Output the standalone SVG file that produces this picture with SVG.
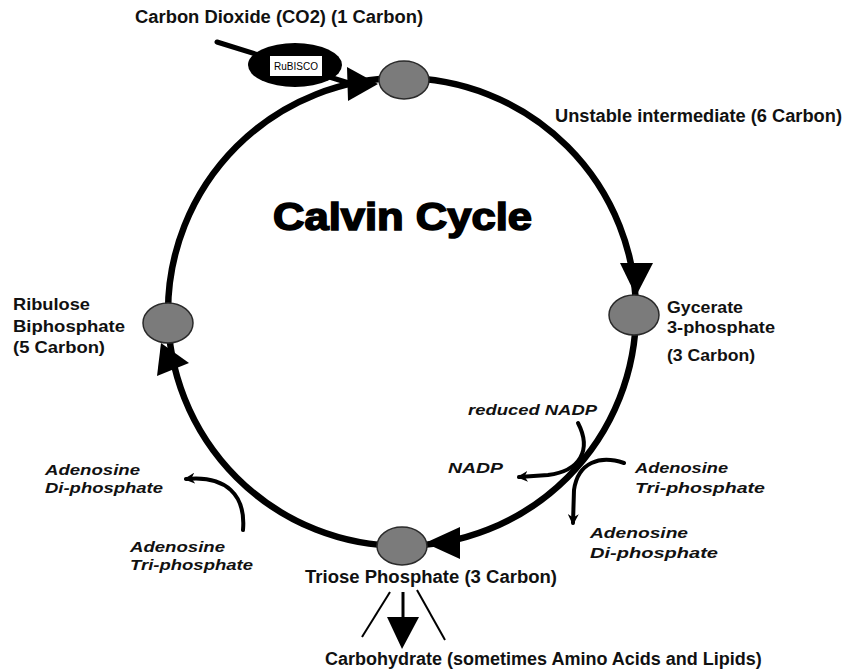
<svg xmlns="http://www.w3.org/2000/svg" width="846" height="671" viewBox="0 0 846 671">
<style>
.lbl{font-family:"Liberation Sans",Arial,sans-serif;font-weight:bold;font-size:18px;fill:#111}
.sm{font-size:16.5px}
.it{font-family:"Liberation Sans",Arial,sans-serif;font-weight:bold;font-style:italic;font-size:15.5px;fill:#111}
.node{fill:#7b7b7b;stroke:#2a2a2a;stroke-width:1.5}
.ring{fill:none;stroke:#000;stroke-width:6.5}
.side{fill:none;stroke:#000;stroke-width:4;stroke-linecap:round}
.thin{fill:none;stroke:#000;stroke-width:2}
.head{fill:#000}
</style>
<defs>
<marker id="sm" viewBox="0 0 10 10" refX="8" refY="5" markerWidth="11" markerHeight="11" markerUnits="userSpaceOnUse" orient="auto">
<path d="M0,0 L10,5 L0,10 L3,5 Z" fill="#000"/>
</marker>
</defs>
<rect width="846" height="671" fill="#fff"/>

<g id="connectors">
<circle class="ring" cx="402" cy="312" r="234"/>
<line x1="217" y1="42" x2="352" y2="84" stroke="#000" stroke-width="5" stroke-linecap="round"/>
<polygon class="head" points="347,67 378,84 348,101"/>
<polygon class="head" points="620,263 653,263 636,296"/>
<polygon class="head" points="425,543 460,527 460,559"/>
<polygon class="head" points="161,343 157,376 189,363"/>
<path class="side" d="M578,423 C592,450 580,471 548,475 L519,477" marker-end="url(#sm)"/>
<path class="side" d="M624,463 C600,455 578,462 574,490 L573,523" marker-end="url(#sm)"/>
<path class="side" d="M243,530 C246,495 226,475 186,479" marker-end="url(#sm)"/>
<line class="thin" x1="390" y1="592" x2="362" y2="637"/>
<line class="thin" x1="417" y1="590" x2="445" y2="640"/>
<line x1="403" y1="592" x2="403" y2="620" stroke="#000" stroke-width="3"/>
<polygon class="head" points="387,617 419,617 402,649"/>
</g>

<g id="rubisco">
<text class="lbl" x="135" y="23" textLength="288" lengthAdjust="spacingAndGlyphs">Carbon Dioxide (CO2) (1 Carbon)</text>
<ellipse cx="295" cy="65" rx="47" ry="22" fill="#000"/>
<rect x="270" y="56" width="52" height="20" fill="#fff"/>
<text x="296" y="70" text-anchor="middle" font-family="Liberation Sans, Arial, sans-serif" font-size="10" fill="#000">RuBISCO</text>
</g>

<g id="node-unstable">
<ellipse class="node" cx="404" cy="80" rx="25" ry="19"/>
<text class="lbl" x="555" y="122" textLength="287" lengthAdjust="spacingAndGlyphs">Unstable intermediate (6 Carbon)</text>
</g>

<g id="title">
<text x="273" y="230" font-family="Liberation Sans, Arial, sans-serif" font-weight="bold" font-size="38" fill="#000" stroke="#000" stroke-width="1.6" textLength="259" lengthAdjust="spacingAndGlyphs">Calvin Cycle</text>
</g>

<g id="node-glycerate">
<ellipse class="node" cx="634" cy="315" rx="25" ry="20"/>
<text class="lbl sm" x="667" y="313" textLength="76" lengthAdjust="spacingAndGlyphs">Gycerate</text>
<text class="lbl sm" x="667" y="333" textLength="108" lengthAdjust="spacingAndGlyphs">3-phosphate</text>
<text class="lbl sm" x="667" y="361" textLength="88" lengthAdjust="spacingAndGlyphs">(3 Carbon)</text>
</g>

<g id="node-ribulose">
<ellipse class="node" cx="168" cy="323" rx="25" ry="20"/>
<text class="lbl sm" x="13" y="310" textLength="77" lengthAdjust="spacingAndGlyphs">Ribulose</text>
<text class="lbl sm" x="13" y="332" textLength="112" lengthAdjust="spacingAndGlyphs">Biphosphate</text>
<text class="lbl sm" x="13" y="353" textLength="92" lengthAdjust="spacingAndGlyphs">(5 Carbon)</text>
</g>

<g id="node-triose">
<ellipse class="node" cx="402" cy="546" rx="25" ry="19"/>
<text class="lbl" x="305" y="583" textLength="252" lengthAdjust="spacingAndGlyphs">Triose Phosphate (3 Carbon)</text>
</g>

<g id="cofactors-right">
<text class="it" x="468" y="415" textLength="129" lengthAdjust="spacingAndGlyphs">reduced NADP</text>
<text class="it" x="448" y="473" textLength="55" lengthAdjust="spacingAndGlyphs">NADP</text>
<text class="it" x="635" y="473" textLength="93" lengthAdjust="spacingAndGlyphs">Adenosine</text>
<text class="it" x="635" y="493" textLength="130" lengthAdjust="spacingAndGlyphs">Tri-phosphate</text>
<text class="it" x="590" y="538" textLength="98" lengthAdjust="spacingAndGlyphs">Adenosine</text>
<text class="it" x="590" y="558" textLength="128" lengthAdjust="spacingAndGlyphs">Di-phosphate</text>
</g>

<g id="cofactors-left">
<text class="it" x="45" y="475" textLength="95" lengthAdjust="spacingAndGlyphs">Adenosine</text>
<text class="it" x="45" y="493" textLength="118" lengthAdjust="spacingAndGlyphs">Di-phosphate</text>
<text class="it" x="130" y="552" textLength="95" lengthAdjust="spacingAndGlyphs">Adenosine</text>
<text class="it" x="130" y="570" textLength="123" lengthAdjust="spacingAndGlyphs">Tri-phosphate</text>
</g>

<g id="node-carbohydrate">
<text class="lbl" x="325" y="665">Carbohydrate (sometimes Amino Acids and Lipids)</text>
</g>
</svg>
